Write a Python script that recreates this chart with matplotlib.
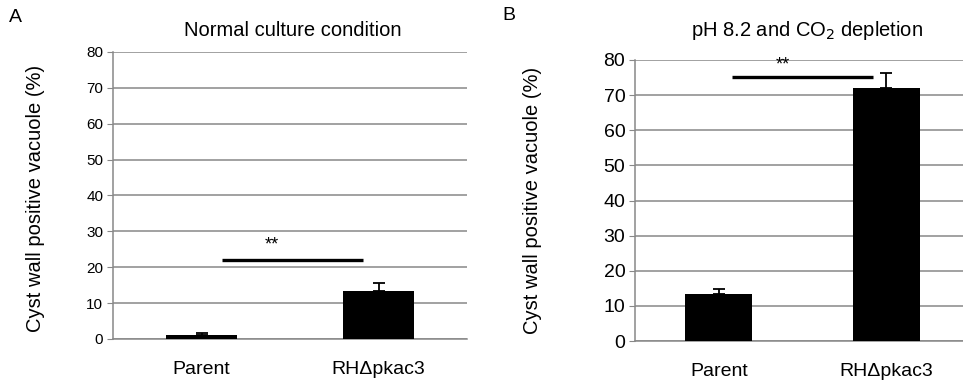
import numpy as np
import matplotlib
matplotlib.use("Agg")
import matplotlib.pyplot as plt

plt.rcParams['font.family'] = ['Liberation Sans', 'DejaVu Sans']

categories = ['Parent', 'RH\u0394pkac3']
normal_vals = [1.2, 13.4]
normal_err = [0.5, 2.3]
alkaline_vals = [13.4, 72.0]
alkaline_err = [1.4, 4.2]

grid_clr = '#888888'


def draw_panel(ax, vals, errs, sig_y, sig_x, star_y, star_x, tick_size):
    x = np.arange(len(categories))
    ax.bar(x, vals, width=0.4, color='black', zorder=3)
    ax.errorbar(x, vals, yerr=[np.zeros(len(errs)), errs], fmt='none',
                ecolor='black', elinewidth=1.3, capsize=4.5, capthick=1.3, zorder=4)
    ax.plot(sig_x, [sig_y, sig_y], color='black', lw=2.4, zorder=5, solid_capstyle='butt')
    ax.text(star_x, star_y, '**', ha='center', va='center', fontsize=13)
    ax.set_xlim(-0.5, 1.5)
    ax.set_ylim(0, 80)
    ax.set_yticks(np.arange(0, 81, 10))
    ax.set_xticks(x)
    ax.set_xticklabels(categories, fontsize=14)
    ax.grid(axis='y', color=grid_clr, lw=1.1, zorder=0)
    for s in ['top', 'right']:
        ax.spines[s].set_visible(False)
    ax.spines['left'].set_color(grid_clr)
    ax.spines['bottom'].set_color(grid_clr)
    ax.spines['left'].set_linewidth(1.1)
    ax.spines['bottom'].set_linewidth(1.1)
    ax.tick_params(axis='x', length=0, pad=16)
    ax.tick_params(axis='y', length=4, color=grid_clr, labelsize=tick_size, pad=3)


fig = plt.figure(figsize=(9.63, 3.82), dpi=100)
W, H = 963, 382

axA = fig.add_axes([113 / W, (H - 339) / H, 354 / W, 287 / H])
draw_panel(axA, normal_vals, normal_err, 22.0, [0.116, 0.912], 26.2, 0.40, 11)
axA.set_ylabel('Cyst wall positive vacuole (%)', fontsize=14.5)
axA.yaxis.set_label_coords(-0.192, 0.49)

axB = fig.add_axes([635 / W, (H - 341) / H, 335 / W, 281 / H])
draw_panel(axB, alkaline_vals, alkaline_err, 75.3, [0.08, 0.92], 78.6, 0.38, 14)
axB.set_ylabel('Cyst wall positive vacuole (%)', fontsize=14.5)
axB.yaxis.set_label_coords(-0.278, 0.50)

fig.text(293 / W, 1 - 30 / H, 'Normal culture condition', ha='center', va='center', fontsize=14.5)
fig.text(807 / W, 1 - 30 / H, 'pH 8.2 and CO$_2$ depletion', ha='center', va='center', fontsize=14.5)
fig.text(15 / W, 1 - 17 / H, 'A', ha='center', va='center', fontsize=14)
fig.text(509 / W, 1 - 15 / H, 'B', ha='center', va='center', fontsize=14)

fig.savefig('out.png', dpi=100)
